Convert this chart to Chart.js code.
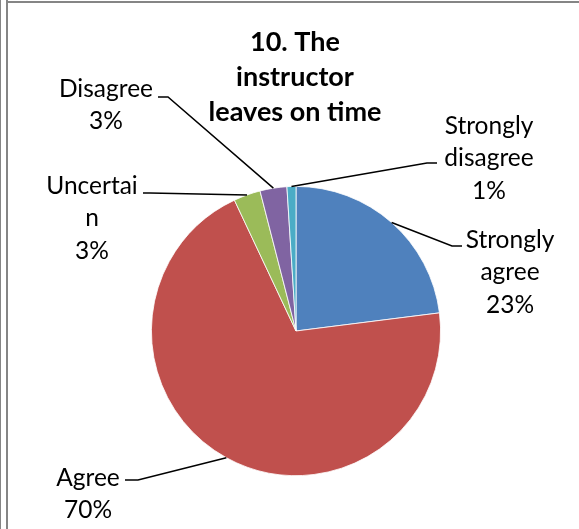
<!DOCTYPE html>
<html>
<head>
<meta charset="utf-8">
<script src="https://cdn.jsdelivr.net/npm/chart.js@4/dist/chart.umd.min.js"></script>
<style>
    html, body { margin: 0; padding: 0; background: #fff; }
    #wrap { position: relative; width: 579px; height: 529px; overflow: hidden; }
    #wrap canvas { position: absolute; left: 0; top: 0; }
    .rule { position: absolute; background: #858585; pointer-events: none; }
</style>
</head>
<body>
<div id="wrap">
    <canvas id="pie" width="579" height="529"></canvas>
    <div class="rule" style="left:0;top:0;width:1px;height:529px"></div>
    <div class="rule" style="left:6px;top:0;width:2px;height:529px"></div>
    <div class="rule" style="left:6px;top:1px;width:573px;height:2px"></div>
</div>
<script>
    const titleLines = ['10. The', 'instructor', 'leaves on time'];
    const categories = ['Strongly agree', 'Agree', 'Uncertain', 'Disagree', 'Strongly disagree'];
    const values = [23, 70, 3, 3, 1];
    const labelLines = [['Strongly', 'agree'], ['Agree'], ['Uncertai', 'n'], ['Disagree'], ['Strongly', 'disagree']];
    const colors = ['#4f81bd', '#c0504d', '#9bbb59', '#8064a2', '#4bacc6'];

    // where each label sits (centre x, middle of first line) and its leader elbow
    const labelSpots = [
        { x: 510, y: 240, end: [462, 246], knee: [452, 246] },
        { x: 88, y: 478, end: [125, 480], knee: [138, 480] },
        { x: 92, y: 186, end: [143, 193], knee: [150, 193] },
        { x: 106, y: 89, end: [158, 97], knee: [168, 97] },
        { x: 489, y: 126, end: [437, 163], knee: [427, 163] },
    ];
    const lineGap = 32.5;
    const labelFont = '24.5px Lato, "Open Sans", sans-serif';
    const titleFont = 'bold 27px Lato, "Open Sans", sans-serif';

    const labelPlugin = {
        id: 'labels',
        afterDraw(chart) {
            const ctx = chart.ctx;
            const arcs = chart.getDatasetMeta(0).data;
            ctx.save();
            ctx.fillStyle = '#000';
            ctx.textAlign = 'center';
            ctx.textBaseline = 'middle';

            ctx.font = titleFont;
            titleLines.forEach((line, i) => ctx.fillText(line, 295, 42 + i * 35));

            ctx.strokeStyle = '#000';
            ctx.lineWidth = 1.5;
            arcs.forEach((arc, i) => {
                const spot = labelSpots[i];
                const mid = (arc.startAngle + arc.endAngle) / 2;
                const sx = arc.x + Math.cos(mid) * arc.outerRadius;
                const sy = arc.y + Math.sin(mid) * arc.outerRadius;
                ctx.beginPath();
                ctx.moveTo(sx, sy);
                ctx.lineTo(spot.knee[0], spot.knee[1]);
                ctx.lineTo(spot.end[0], spot.end[1]);
                ctx.stroke();

                ctx.font = labelFont;
                const lines = [...labelLines[i], `${values[i]}%`];
                lines.forEach((line, j) => ctx.fillText(line, spot.x, spot.y + j * lineGap));
            });
            ctx.restore();
        },
    };

    new Chart(document.getElementById('pie'), {
        type: 'pie',
        data: {
            labels: categories,
            datasets: [{
                data: values,
                backgroundColor: colors,
                borderColor: '#ffffff',
                borderWidth: 0.8,
            }],
        },
        options: {
            responsive: false,
            animation: false,
            devicePixelRatio: 1,
            layout: { padding: { left: 151, right: 138, top: 186, bottom: 53 } },
            plugins: {
                legend: { display: false },
                title: { display: false },
                tooltip: { enabled: false },
            },
        },
        plugins: [labelPlugin],
    });
</script>
</body>
</html>
